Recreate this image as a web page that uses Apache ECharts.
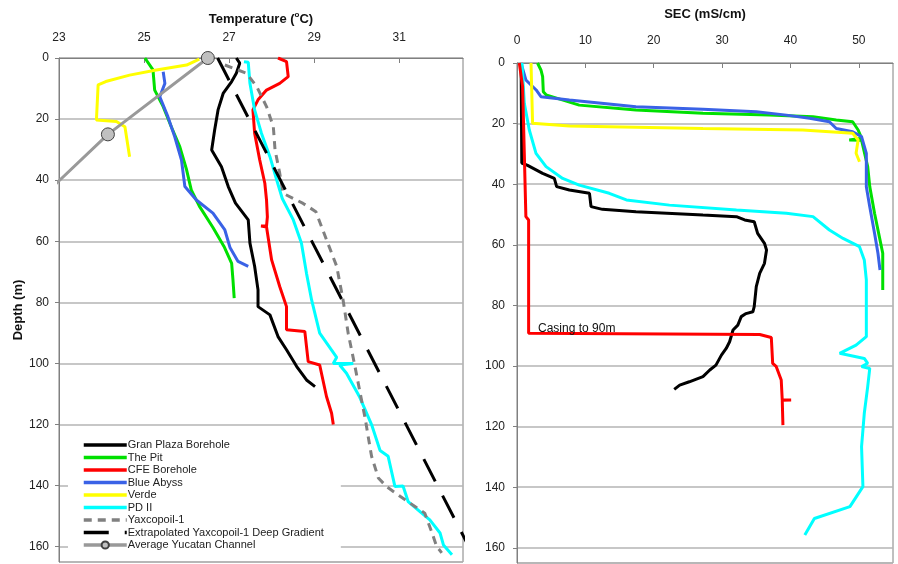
<!DOCTYPE html>
<html>
<head>
<meta charset="utf-8">
<script src="https://cdn.jsdelivr.net/npm/echarts@6/dist/echarts.min.js"></script>
<style>
  html, body { margin: 0; padding: 0; background: #fff; }
  #chart { width: 898px; height: 564px; }
</style>
</head>
<body>
<div id="chart"></div>
<script>
// temperature profiles [°C, depth m]
const gpTemp = [[27.17,0],[27.25,1.7],[27.17,5],[27.06,7.7],[26.86,11.6],[26.74,17],[26.66,23.6],[26.59,30.1],[26.82,35.6],[26.98,42.1],[27.15,47.5],[27.45,53],[27.49,60.6],[27.6,68.2],[27.68,75.9],[27.68,81.4],[27.96,84.1],[28.15,91.2],[28.35,95.5],[28.59,101],[28.82,105.4],[29.02,107.6]];
const pitTemp = [[25.02,0],[25.21,3.9],[25.25,10.5],[25.45,15.9],[25.64,22.5],[25.84,29],[26.0,36.6],[26.11,43.2],[26.3,48.5],[26.62,55.5],[26.88,61.7],[27.06,67.2],[27.09,72.5],[27.12,78.6]];
const cfeTemp = [[28.15,0],[28.35,1.2],[28.39,6.1],[28.19,8.3],[27.88,10.5],[27.68,13.7],[27.56,17],[27.6,24.6],[27.72,33.4],[27.84,41],[27.88,46.5],[27.9,52],[27.88,55],[27.75,55],[27.88,55.3],[28.0,66.1],[28.19,74.8],[28.35,81.4],[28.35,89],[28.78,89.5],[28.86,99.4],[29.13,100.5],[29.29,110.8],[29.41,116.3],[29.45,120]];
const abyssTemp = [[25.45,4.5],[25.49,8.3],[25.37,12.7],[25.56,19.2],[25.72,25.7],[25.88,33.4],[25.96,42.1],[26.23,46.5],[26.62,50.8],[26.9,56.3],[27.02,62],[27.21,66.6],[27.45,68.2]];
const verdeTemp = [[26.3,0.4],[26.0,2.3],[25.29,3.9],[24.66,5.6],[24.1,7.7],[23.92,8.8],[23.88,20.3],[24.35,20.8],[24.55,22.5],[24.66,32.3]];
const pdTemp = [[27.35,1.2],[27.45,1.4],[27.49,8.3],[27.6,17],[27.76,24.6],[27.96,32.3],[28.12,40],[28.25,46],[28.51,53],[28.7,60.6],[28.82,70.5],[28.94,79.2],[29.13,90.1],[29.53,98],[29.45,100],[29.92,100],[29.6,100.5],[29.76,103.2],[30.07,111],[30.35,120],[30.55,128.5],[30.74,130.4],[30.9,140.3],[31.09,140.1],[31.21,145.2],[31.53,149],[31.72,151.2],[31.96,155.5],[32.04,159.4],[32.24,162.6]];
const yaxTemp = [[26.9,2.3],[27.41,5],[27.65,9.4],[27.88,15.9],[28.04,22.5],[28.08,30.1],[28.19,37.7],[28.27,44.3],[28.74,47.6],[29.04,50.3],[29.29,59.5],[29.53,68.2],[29.68,79.2],[29.8,90.1],[29.96,101],[30.1,111],[30.2,118],[30.27,123.9],[30.35,130.4],[30.51,137.5],[30.7,140.3],[31.02,143.5],[31.37,146.8],[31.6,149],[31.76,155],[31.88,159.9],[32.0,162]];
const extrapTemp = [[26.73,0],[32.73,162.5]];
const yucatanTemp = [[26.5,0],[24.15,25],[22.88,41.8]];

// SEC profiles [mS/cm, depth m]
const gpSec = [[0.6,0],[0.7,33],[1.55,33.8],[3.75,36.4],[5.46,38.1],[5.8,40.8],[7.66,41.9],[10.6,43],[10.83,47.4],[12.5,48.3],[17.4,49.1],[27.2,50.2],[32.1,50.7],[33.3,51.8],[34.7,52.4],[35.2,56.2],[36.2,59.5],[36.5,61.7],[36.2,66.1],[35.5,69.4],[35.0,73.8],[34.7,80.4],[34.5,82.1],[33.5,82.7],[32.8,83.7],[32.3,86.5],[31.6,88.1],[31.1,92],[30.6,94.2],[29.9,96.4],[29.1,99.7],[28.2,101.3],[27.2,103.5],[25.2,105.2],[23.8,106.3],[23.0,107.7]];
const pitSec = [[3.0,0],[3.5,2.3],[3.75,4.5],[3.85,9.5],[4.25,10.5],[9.1,13.9],[17.4,15.5],[27.2,16.6],[36.9,17.2],[43.3,17.7],[46.7,18.8],[49.1,19.4],[49.9,22.1],[50.4,24.8],[48.6,25.4],[50.4,25.5],[51.3,34.2],[51.6,40.8],[52.3,49.6],[53.0,57.3],[53.5,62.8],[53.5,74.9]];
const cfeSec = [[0.34,0],[0.82,7.8],[1.07,30],[1.3,50.7],[1.7,51.8],[1.7,89.2],[35.5,89.6],[37.2,90.6],[37.4,99.1],[37.9,100.1],[38.65,104.6],[38.8,111.2],[40.1,111.2],[38.8,111.3],[38.9,119.5]];
const abyssSec = [[0.58,0],[1.3,5.6],[2.8,8.9],[3.5,11.1],[7.66,12.2],[17.4,14.4],[27.2,15.3],[35,16.1],[39.4,17.2],[42.8,18.2],[45.7,19.4],[46.7,21.6],[49.1,22.7],[50.4,24.3],[51.1,29.8],[51.1,40.8],[51.6,47.4],[52.3,56.2],[52.8,62.8],[53.1,68.3]];
const verdeSec = [[2.05,0],[2.28,19.9],[7.66,20.8],[27.2,21.6],[41.8,22.1],[49.1,23.2],[49.9,25.4],[49.6,29.8],[50.1,32.6]];
const pdSec = [[0.73,0],[1.07,13.3],[1.8,22.1],[2.78,29.8],[4.25,34.2],[6.68,38.1],[9.1,40.3],[13.5,43],[16.0,45.2],[22.3,46.9],[32.1,48.5],[39.4,49.6],[43.3,50.7],[45.7,55.1],[47.7,57.9],[50.1,60.6],[50.8,65],[51.1,71.6],[51.1,90.3],[49.6,93.1],[47.2,95.8],[50.8,97.5],[51.3,99.1],[50.4,100.2],[51.6,100.8],[51.3,106.8],[50.8,115.6],[50.4,126.6],[50.6,139.8],[48.7,146.4],[43.5,150.3],[42.1,155.8]];

const names = ['Gran Plaza Borehole', 'The Pit', 'CFE Borehole', 'Blue Abyss', 'Verde', 'PD II',
  'Yaxcopoil-1', 'Extrapolated Yaxcopoil-1 Deep Gradient', 'Average Yucatan Channel'];
const casingNote = 'Casing to 90m';

const FONT = '"Liberation Sans", Arial, sans-serif';
const GRID_GRAY = '#b4b4b4';
const AXIS_GRAY = '#808080';

function line(name, data, axis, color, extra) {
  return Object.assign({
    type: 'line', name, data,
    xAxisIndex: axis, yAxisIndex: axis,
    showSymbol: false, symbol: 'none', smooth: false,
    lineStyle: { color, width: 3 },
    itemStyle: { color },
    emphasis: { disabled: true },
    animation: false
  }, extra || {});
}

const yAxisBase = {
  type: 'value', inverse: true, min: 0, max: 165, interval: 20,
  axisLine: { show: true, lineStyle: { color: AXIS_GRAY } },
  axisTick: { show: true, length: 4, lineStyle: { color: AXIS_GRAY } },
  axisLabel: { color: '#222', fontSize: 12, fontFamily: FONT, showMaxLabel: false, margin: 10 },
  splitLine: { show: true, lineStyle: { color: GRID_GRAY, width: 1.5 } }
};

// only the channel average has a marker in the legend
const legendItems = names.map((n, i) => i === names.length - 1
  ? { name: n }
  : { name: n, itemStyle: { opacity: 0 } });

const chart = echarts.init(document.getElementById('chart'));
chart.setOption({
  backgroundColor: '#fff',
  textStyle: { fontFamily: FONT },
  grid: [
    { left: 59, right: 435, top: 58, bottom: 2, show: true, borderColor: AXIS_GRAY, borderWidth: 1 },
    { left: 517, right: 5, top: 63, bottom: 1, show: true, borderColor: AXIS_GRAY, borderWidth: 1 }
  ],
  xAxis: [
    {
      gridIndex: 0, type: 'value', position: 'top', min: 23, max: 32.5, interval: 2,
      name: 'Temperature ({sup|o}C)', nameLocation: 'middle', nameGap: 27,
      nameTextStyle: { fontSize: 13, fontWeight: 'bold', color: '#111', lineHeight: 16,
        rich: { sup: { fontSize: 8, fontWeight: 'bold', verticalAlign: 'top', lineHeight: 9, color: '#111' } } },
      axisLine: { show: true, lineStyle: { color: AXIS_GRAY } },
      axisTick: { show: true, inside: true, length: 5, lineStyle: { color: AXIS_GRAY } },
      axisLabel: { color: '#222', fontSize: 12, margin: 14, showMaxLabel: false },
      splitLine: { show: false }
    },
    {
      gridIndex: 1, type: 'value', position: 'top', min: 0, max: 55, interval: 10,
      name: 'SEC (mS/cm)', nameLocation: 'middle', nameGap: 42,
      nameTextStyle: { fontSize: 13, fontWeight: 'bold', color: '#111' },
      axisLine: { show: true, lineStyle: { color: AXIS_GRAY } },
      axisTick: { show: true, inside: true, length: 5, lineStyle: { color: AXIS_GRAY } },
      axisLabel: { color: '#222', fontSize: 12, margin: 16, showMaxLabel: false },
      splitLine: { show: false }
    }
  ],
  yAxis: [
    Object.assign({}, yAxisBase, {
      gridIndex: 0, name: 'Depth (m)', nameLocation: 'middle', nameGap: 34,
      nameTextStyle: { fontSize: 13, fontWeight: 'bold', color: '#111' }
    }),
    Object.assign({}, yAxisBase, { gridIndex: 1, axisLabel: Object.assign({}, yAxisBase.axisLabel, { margin: 12 }) })
  ],
  legend: {
    orient: 'vertical', left: 68, top: 433,
    data: legendItems,
    itemWidth: 43, itemHeight: 9, itemGap: 0.5,
    padding: [6, 17, 4, 14],
    backgroundColor: '#fff',
    lineStyle: { width: 3.5 },
    textStyle: { fontSize: 11, color: '#222', lineHeight: 12, padding: [0, 0, 0, -4] },
    selectedMode: false
  },
  series: [
    line(names[0], gpTemp, 0, '#000000'),
    line(names[1], pitTemp, 0, '#00e000'),
    line(names[2], cfeTemp, 0, '#ff0000'),
    line(names[3], abyssTemp, 0, '#3a62e6'),
    line(names[4], verdeTemp, 0, '#ffff00'),
    line(names[5], pdTemp, 0, '#00ffff'),
    line(names[6], yaxTemp, 0, '#808080', { lineStyle: { color: '#808080', width: 3, type: [8, 6] } }),
    line(names[7], extrapTemp, 0, '#000000', { clip: false, lineStyle: { color: '#000', width: 3, type: [25, 16] } }),
    line(names[8], yucatanTemp.map((p, i) => i === yucatanTemp.length - 1 ? { value: p, symbol: 'none' } : p), 0, '#999999', {
      clip: false, showSymbol: true, symbol: 'circle', symbolSize: 13,
      lineStyle: { color: '#999999', width: 3 },
      itemStyle: { color: '#c0c0c0', borderColor: '#404040', borderWidth: 1 }
    }),
    line(names[0], gpSec, 1, '#000000'),
    line(names[1], pitSec, 1, '#00e000'),
    line(names[3], abyssSec, 1, '#3a62e6'),
    line(names[4], verdeSec, 1, '#ffff00'),
    line(names[5], pdSec, 1, '#00ffff'),
    line(names[2], cfeSec, 1, '#ff0000', {
      markPoint: {
        symbol: 'circle', symbolSize: 1, itemStyle: { color: 'rgba(0,0,0,0)' },
        label: { show: true, position: 'right', distance: 0, formatter: casingNote,
          color: '#111', fontSize: 12, fontFamily: FONT },
        data: [{ coord: [3, 87.8] }]
      }
    })
  ]
});
</script>
</body>
</html>
